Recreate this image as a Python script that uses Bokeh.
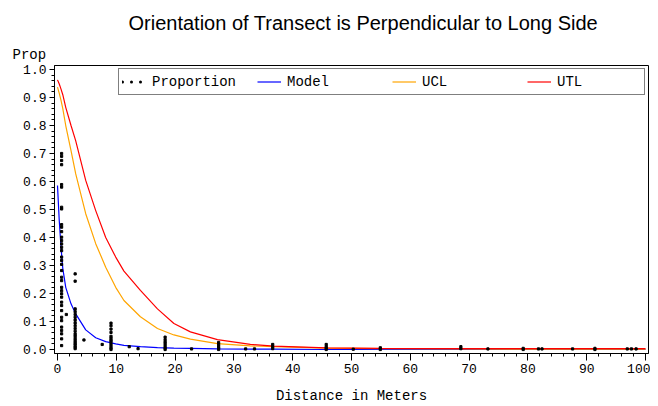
from bokeh.plotting import figure
from bokeh.models import (Range1d, FixedTicker, PrintfTickFormatter, Title,
                          Legend, LegendItem)
from bokeh.embed import file_html
from bokeh.resources import INLINE

# ---------------- data ----------------
title_text = "Orientation of Transect is Perpendicular to Long Side"
x_label = "Distance in Meters"
y_label = "Prop"

x_ticks = [0, 10, 20, 30, 40, 50, 60, 70, 80, 90, 100]
y_ticks = [0.0, 0.1, 0.2, 0.3, 0.4, 0.5, 0.6, 0.7, 0.8, 0.9, 1.0]

# observed proportions (distance, proportion)
prop_dist = (
    [0.7] * 36 + [3.0] * 20 + [1.5, 4.5, 7.6] + [9.1] * 12 + [12.2, 13.7]
    + [18.3] * 7 + [22.8] + [27.4] * 5 + [32.0, 33.5] + [36.6] * 3
    + [45.7] * 4 + [50.3] + [54.9] * 2 + [68.6] * 2
    + [73.2, 79.2, 79.2, 81.8, 82.4, 87.6, 91.4, 91.4, 96.9, 97.6, 98.4]
)
prop_vals = (
    [0.700, 0.690, 0.675, 0.660, 0.589, 0.580, 0.508, 0.502, 0.446, 0.437,
     0.421, 0.401, 0.389, 0.377, 0.365, 0.353, 0.330, 0.318, 0.304, 0.282,
     0.258, 0.246, 0.222, 0.210, 0.199, 0.187, 0.169, 0.157, 0.139, 0.115,
     0.103, 0.080, 0.068, 0.056, 0.038, 0.014]
    + [0.270, 0.244, 0.145, 0.135, 0.125, 0.115, 0.105, 0.095, 0.085, 0.075,
       0.065, 0.055, 0.048, 0.040, 0.033, 0.026, 0.020, 0.014, 0.008, 0.003]
    + [0.125, 0.034, 0.018]
    + [0.094, 0.085, 0.073, 0.061, 0.047, 0.040, 0.033, 0.028, 0.020, 0.012,
       0.005, 0.000]
    + [0.010, 0.003]
    + [0.044, 0.035, 0.027, 0.020, 0.012, 0.005, 0.000]
    + [0.002]
    + [0.025, 0.018, 0.011, 0.005, 0.000]
    + [0.002, 0.002]
    + [0.018, 0.010, 0.003]
    + [0.018, 0.010, 0.004, 0.000]
    + [0.001]
    + [0.006, 0.000]
    + [0.010, 0.003]
    + [0.002, 0.004, 0.000, 0.002, 0.002, 0.002, 0.004, 0.000, 0.002, 0.002,
       0.002]
)

curve_dist = [0, 0.3, 0.6, 0.9, 1.4, 2.3, 3.1, 4.8, 6.5, 8.2, 9.9, 11.3, 14.1,
              17.0, 19.8, 22.6, 27.2, 32.8, 36.8, 45.7, 54.9, 68.6, 80, 100]
model_vals = [0.586, 0.46, 0.365, 0.29, 0.222, 0.163, 0.127, 0.070, 0.042,
              0.028, 0.020, 0.015, 0.010, 0.007, 0.005, 0.004, 0.002, 0.001,
              0.001, 0.0, 0.0, 0.0, 0.0, 0.0]
ucl_vals = [0.937, 0.915, 0.89, 0.86, 0.80, 0.71, 0.627, 0.485, 0.378, 0.294,
            0.222, 0.175, 0.117, 0.075, 0.052, 0.037, 0.021, 0.013, 0.010,
            0.005, 0.003, 0.002, 0.001, 0.001]
utl_vals = [0.963, 0.948, 0.93, 0.91, 0.865, 0.80, 0.745, 0.604, 0.496, 0.40,
            0.33, 0.28, 0.211, 0.145, 0.093, 0.063, 0.035, 0.018, 0.012,
            0.006, 0.004, 0.003, 0.003, 0.003]

legend_labels = ["Proportion", "Model", "UCL", "UTL"]

# ---------------- figure ----------------
MONO = "Liberation Mono"

p = figure(width=650, height=406, output_backend="svg", toolbar_location=None,
           x_range=Range1d(-0.51, 100.51), y_range=Range1d(-0.0143, 1.0143),
           min_border_left=54, min_border_right=2, min_border_top=65,
           min_border_bottom=53)
p.background_fill_color = "white"
p.border_fill_color = "white"
p.outline_line_color = "black"
p.outline_line_width = 1
p.xgrid.visible = False
p.ygrid.visible = False

# main title (outermost panel, at the top of the canvas)
p.title.text = title_text
p.title.align = "left"
p.title.offset = 74
p.title.text_font = "Liberation Sans"
p.title.text_font_size = "20px"
p.title.text_font_style = "normal"
p.title.text_color = "black"
p.title.vertical_align = "top"
p.title.standoff = 12

# "Prop" label just above the frame, at the far left
p.add_layout(Title(text=y_label, align="left", offset=-42,
                   text_font=MONO, text_font_size="14px",
                   text_font_style="normal", text_color="black",
                   vertical_align="bottom", standoff=6), "above")

r_model = p.line(curve_dist, model_vals, line_color="blue", line_width=1.2)
r_ucl = p.line(curve_dist, ucl_vals, line_color="orange", line_width=1.2)
r_utl = p.line(curve_dist, utl_vals, line_color="red", line_width=1.2)
r_pts = p.scatter(prop_dist, prop_vals, marker="square", size=2.2,
                  color="black")
# legend-only dotted line (three dots) for the Proportion entry
dummy = p.line(x=[float("nan")], y=[float("nan")], line_color="black",
               line_width=3, line_dash="0 9", line_cap="round")

# x axis
xa = p.xaxis[0]
xa.ticker = FixedTicker(ticks=x_ticks,
                        minor_ticks=[i * 2 for i in range(51)])
xa.axis_label = x_label
xa.axis_label_text_font = MONO
xa.axis_label_text_font_size = "14px"
xa.axis_label_text_font_style = "normal"
xa.axis_label_text_color = "black"
xa.axis_label_standoff = 12
xa.major_label_text_font = MONO
xa.major_label_text_font_size = "13px"
xa.major_label_text_color = "black"
xa.major_label_standoff = 3
xa.major_tick_out = 7
xa.major_tick_in = 0
xa.minor_tick_out = 3
xa.minor_tick_in = 0
xa.axis_line_color = "black"

# y axis
ya = p.yaxis[0]
ya.ticker = FixedTicker(ticks=y_ticks,
                        minor_ticks=[i * 0.02 for i in range(51)])
ya.formatter = PrintfTickFormatter(format="%.1f")
ya.major_label_text_font = MONO
ya.major_label_text_font_size = "13px"
ya.major_label_text_color = "black"
ya.major_label_standoff = 3
ya.major_tick_out = 5
ya.major_tick_in = 0
ya.minor_tick_out = 3
ya.minor_tick_in = 0
ya.axis_line_color = "black"

legend = Legend(items=[
    LegendItem(label=legend_labels[0], renderers=[dummy]),
    LegendItem(label=legend_labels[1], renderers=[r_model]),
    LegendItem(label=legend_labels[2], renderers=[r_ucl]),
    LegendItem(label=legend_labels[3], renderers=[r_utl]),
], orientation="horizontal", location=(64, 258))
legend.label_text_font = MONO
legend.label_text_font_size = "14px"
legend.label_text_color = "black"
legend.glyph_width = 24
legend.glyph_height = 19
legend.label_height = 19
legend.label_width = 84
legend.label_standoff = 6
legend.spacing = 21
legend.padding = 3
legend.margin = 0
legend.border_line_color = "black"
legend.border_line_width = 1
legend.background_fill_alpha = 1.0
p.add_layout(legend)

open("out.html", "w").write(file_html(p, INLINE))
